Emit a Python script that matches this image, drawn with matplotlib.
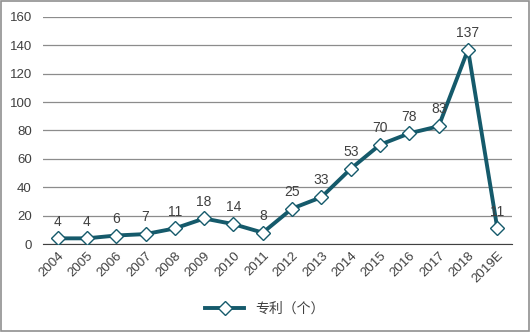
import matplotlib
matplotlib.use("Agg")
import matplotlib.pyplot as plt
from matplotlib.patches import Rectangle

plt.rcParams['font.family'] = ['Noto Sans CJK SC', 'DejaVu Sans']

# data
years = ["2004", "2005", "2006", "2007", "2008", "2009", "2010", "2011",
         "2012", "2013", "2014", "2015", "2016", "2017", "2018", "2019E"]
patents = [4, 4, 6, 7, 11, 18, 14, 8, 25, 33, 53, 70, 78, 83, 137, 11]
series_name = "专利（个）"

line_color = "#155a6b"

fig = plt.figure(figsize=(5.3, 3.32), dpi=100)
ax = fig.add_axes([0.081, 0.265, 0.885, 0.684])

x = list(range(len(years)))
ax.plot(x, patents, color=line_color, lw=2.8, marker="D", markersize=7.5,
        markerfacecolor="white", markeredgecolor=line_color, markeredgewidth=1.0,
        label=series_name, zorder=3)

# value labels above each point
for xi, v in zip(x, patents):
    ax.annotate(str(v), (xi, v), xytext=(0, 7), textcoords="offset points",
                ha="center", va="bottom", fontsize=10, color="#404040",
                family="Liberation Sans")

ax.set_xlim(-0.5, len(years) - 0.5)
ax.set_ylim(0, 160)
ax.set_yticks(range(0, 161, 20))
ax.set_xticks(x)
ax.set_xticklabels(years, rotation=45, ha="right", rotation_mode="anchor",
                   family="Liberation Sans")
ax.tick_params(axis="both", length=0, labelsize=9.5, labelcolor="#404040")
ax.tick_params(axis="x", pad=4)
ax.tick_params(axis="y", pad=8)
for lab in ax.get_yticklabels():
    lab.set_family("Liberation Sans")

ax.grid(axis="y", color="#8c8c8c", lw=0.9)
ax.set_axisbelow(True)
for s in ["top", "right", "left"]:
    ax.spines[s].set_visible(False)
ax.spines["bottom"].set_color("#404040")

fig.legend(loc="center", bbox_to_anchor=(0.5, 0.07), frameon=False,
           fontsize=10, handlelength=2.8, labelcolor="#404040")

fig.patches.append(Rectangle((0.002, 0.003), 0.996, 0.994, transform=fig.transFigure,
                             fill=False, edgecolor="#909090", lw=1.2))

fig.savefig("out.png", dpi=100)
